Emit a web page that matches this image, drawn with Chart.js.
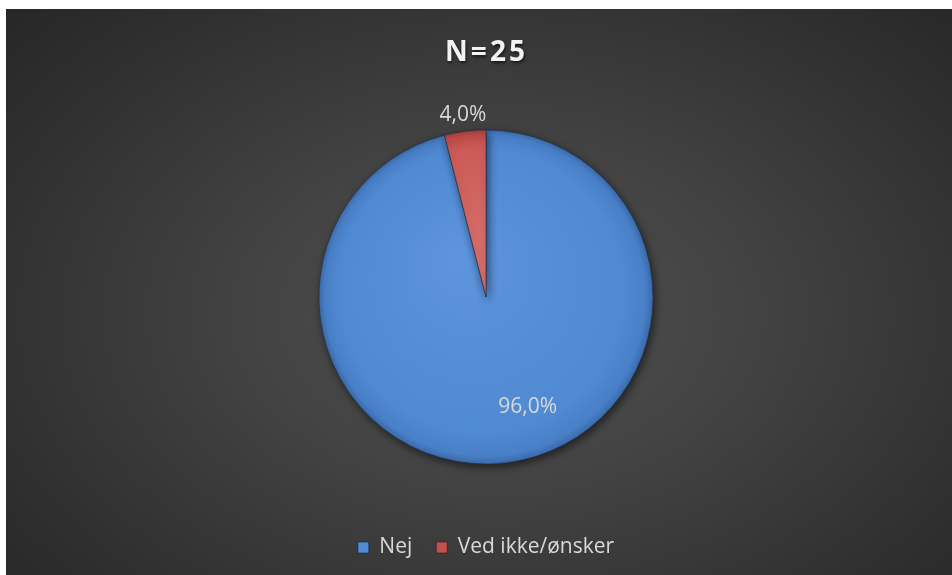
<!DOCTYPE html>
<html lang="da">
<head>
<meta charset="utf-8">
<title>N=25</title>
<script src="https://cdn.jsdelivr.net/npm/chart.js@4/dist/chart.umd.min.js"></script>
<style>
    html, body {
        margin: 0;
        padding: 0;
        background: #ffffff;
    }
    #panel {
        position: absolute;
        left: 6px;
        top: 9px;
        width: 946px;
        height: 566px;
        background: radial-gradient(ellipse 75% 85% at 52% 54%, #515151 0%, #434343 35%, #2f2f2f 75%, #242424 100%);
    }
</style>
</head>
<body>
<div id="panel">
    <canvas id="pieChart" width="946" height="566"></canvas>
</div>
<script>
// Svarfordeling
const kategorier = ['Nej', 'Ved ikke/ønsker'];
const andele = [96.0, 4.0];
const farver = ['#528ad3', '#c4504c'];
const titel = 'N=25';

// Placering af procentetiketter (radius som andel af pie-radius + forskydning)
const etiketPlacering = [
    { r: 0.70, dx: 27, dy: -6 },
    { r: 1.105, dx: 0, dy: 1 }
];

const PIE_RADIUS = 167;

function formaterProcent(v) {
    const total = andele.reduce((a, b) => a + b, 0);
    return (v / total * 100).toFixed(1).replace('.', ',') + '%';
}

// Radial gradient pr. udsnit, så kanten bliver lidt mørkere
function udsnitFarve(context) {
    const chart = context.chart;
    const area = chart.chartArea;
    const i = context.dataIndex;
    if (!area) return farver[i];
    const cx = (area.left + area.right) / 2;
    const cy = (area.top + area.bottom) / 2;
    const g = chart.ctx.createRadialGradient(cx - 30, cy - 40, 0, cx, cy, PIE_RADIUS);
    if (i === 0) {
        g.addColorStop(0, '#5e94db');
        g.addColorStop(0.85, '#508ad2');
        g.addColorStop(0.96, '#4980c8');
        g.addColorStop(1, '#3c6cae');
    } else {
        g.addColorStop(0, '#d8706b');
        g.addColorStop(0.85, '#cc5b57');
        g.addColorStop(0.96, '#bf4c48');
        g.addColorStop(1, '#a83d3a');
    }
    return g;
}

// Skygge under pie
const skyggePlugin = {
    id: 'skygge',
    beforeDatasetsDraw(chart) {
        const ctx = chart.ctx;
        ctx.save();
        ctx.shadowColor = 'rgba(0, 0, 0, 0.55)';
        ctx.shadowBlur = 8;
        ctx.shadowOffsetX = 2;
        ctx.shadowOffsetY = 3;
    },
    afterDatasetsDraw(chart) {
        chart.ctx.restore();
    }
};

// Procentetiketter på udsnittene
const etiketPlugin = {
    id: 'etiketter',
    afterDatasetsDraw(chart) {
        const ctx = chart.ctx;
        const meta = chart.getDatasetMeta(0);
        ctx.save();
        ctx.font = '21px "Open Sans", sans-serif';
        ctx.fillStyle = '#d9d9d9';
        ctx.textAlign = 'center';
        ctx.textBaseline = 'middle';
        meta.data.forEach((arc, i) => {
            const p = arc.getProps(['x', 'y', 'startAngle', 'endAngle', 'outerRadius'], true);
            const mid = (p.startAngle + p.endAngle) / 2;
            const pl = etiketPlacering[i];
            const x = p.x + Math.cos(mid) * p.outerRadius * pl.r + pl.dx;
            const y = p.y + Math.sin(mid) * p.outerRadius * pl.r + pl.dy;
            ctx.fillText(formaterProcent(andele[i]), x, y);
        });
        ctx.restore();
    }
};

// Titel med spatiering og skygge
const titelPlugin = {
    id: 'titel',
    afterDraw(chart) {
        const ctx = chart.ctx;
        ctx.save();
        ctx.font = 'bold 28px "Open Sans", sans-serif';
        ctx.letterSpacing = '3px';
        ctx.fillStyle = '#f2f2f2';
        ctx.textAlign = 'center';
        ctx.textBaseline = 'middle';
        ctx.shadowColor = 'rgba(0, 0, 0, 0.6)';
        ctx.shadowBlur = 3;
        ctx.shadowOffsetX = 1;
        ctx.shadowOffsetY = 2;
        const cx = (chart.chartArea.left + chart.chartArea.right) / 2;
        ctx.fillText(titel, cx + 0.5, 44);
        ctx.restore();
    }
};

const ctx = document.getElementById('pieChart');

new Chart(ctx, {
    type: 'pie',
    data: {
        labels: kategorier,
        datasets: [{
            data: andele,
            backgroundColor: udsnitFarve,
            borderColor: 'rgba(30, 45, 70, 0.55)',
            borderWidth: 1,
            radius: PIE_RADIUS
        }]
    },
    options: {
        responsive: false,
        animation: false,
        layout: {
            padding: { left: 14, right: 0, top: 72, bottom: 7 }
        },
        plugins: {
            title: { display: false },
            legend: {
                position: 'bottom',
                labels: {
                    color: '#d9d9d9',
                    font: { family: '"Open Sans", sans-serif', size: 21 },
                    boxWidth: 11,
                    boxHeight: 11,
                    padding: 24,
                    generateLabels() {
                        return kategorier.map((k, i) => ({
                            text: k,
                            fillStyle: farver[i],
                            strokeStyle: 'rgba(20, 30, 50, 0.6)',
                            lineWidth: 1,
                            fontColor: '#d9d9d9',
                            index: i
                        }));
                    }
                }
            },
            tooltip: { enabled: false }
        }
    },
    plugins: [skyggePlugin, etiketPlugin, titelPlugin]
});
</script>
</body>
</html>
